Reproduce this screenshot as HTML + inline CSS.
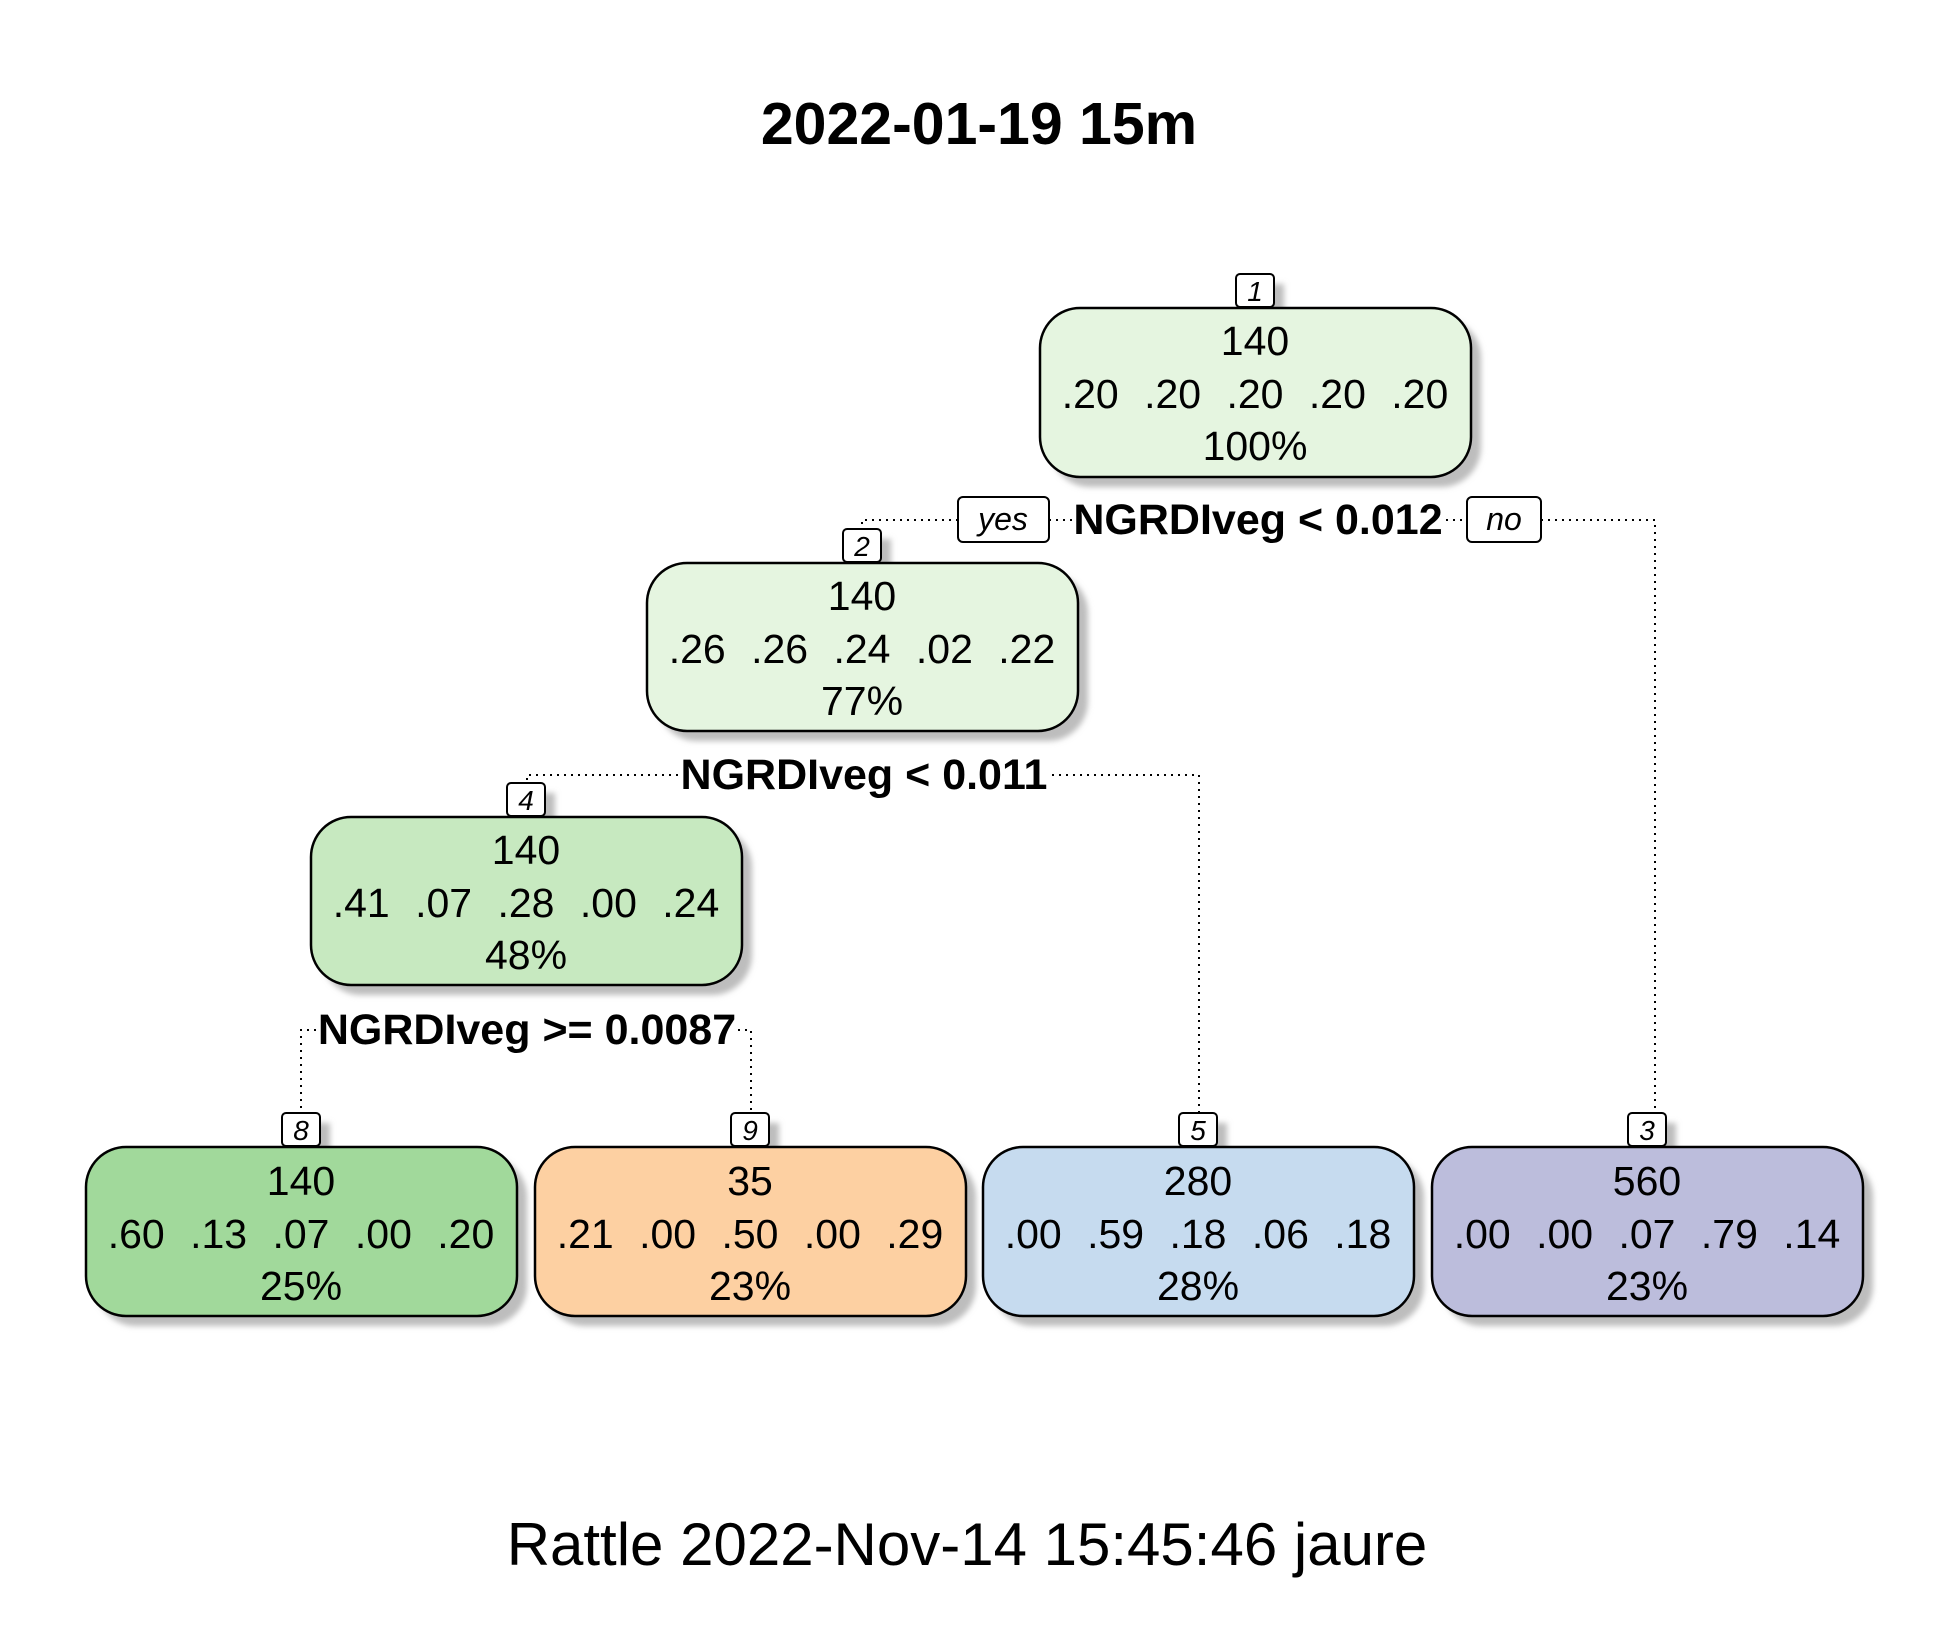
<!DOCTYPE html>
<html><head><meta charset="utf-8"><style>
html,body{margin:0;padding:0;background:#fff;}
svg{display:block;}
text{font-family:"Liberation Sans",Arial,sans-serif;}
</style></head><body>
<svg width="1950" height="1650" viewBox="0 0 1950 1650" xmlns="http://www.w3.org/2000/svg">
<defs>
<filter id="blur" x="-10%" y="-10%" width="130%" height="130%"><feGaussianBlur stdDeviation="3"/></filter>
</defs>
<text x="979" y="144" font-size="59" font-weight="bold" text-anchor="middle">2022-01-19 15m</text>

<g stroke="#000" stroke-width="2" stroke-dasharray="2,5" fill="none">
<polyline points="958,520 862,520 862,529"/>
<polyline points="1541,520 1655,520 1655,1112"/>
<line x1="1049" y1="520" x2="1074" y2="520"/>
<line x1="1446" y1="520" x2="1467" y2="520"/>
<polyline points="678,775 527,775 527,782"/>
<polyline points="1052,775 1199,775 1199,1112"/>
<polyline points="316,1030 301,1030 301,1112"/>
<polyline points="738,1030 751,1030 751,1112"/>
</g>

<g fill="#bdbdbd" filter="url(#blur)">
<rect x="1050" y="318" width="431" height="169" rx="40"/>
<rect x="657" y="573" width="431" height="168" rx="40"/>
<rect x="321" y="827" width="431" height="168" rx="40"/>
<rect x="96" y="1157" width="431" height="169" rx="40"/>
<rect x="545" y="1157" width="431" height="169" rx="40"/>
<rect x="993" y="1157" width="431" height="169" rx="40"/>
<rect x="1442" y="1157" width="431" height="169" rx="40"/>
<rect x="1246" y="284" width="38" height="33"/>
<rect x="853" y="539" width="38" height="33"/>
<rect x="517" y="793" width="38" height="33"/>
<rect x="292" y="1123" width="38" height="33"/>
<rect x="741" y="1123" width="38" height="33"/>
<rect x="1189" y="1123" width="38" height="33"/>
<rect x="1638" y="1123" width="38" height="33"/>
</g>
<g stroke="#000" stroke-width="2.5">
<rect x="1040" y="308" width="431" height="169" rx="40" fill="#e5f5e0"/>
<rect x="647" y="563" width="431" height="168" rx="40" fill="#e5f5e0"/>
<rect x="311" y="817" width="431" height="168" rx="40" fill="#c7e9c0"/>
<rect x="86" y="1147" width="431" height="169" rx="40" fill="#a1d99b"/>
<rect x="535" y="1147" width="431" height="169" rx="40" fill="#fdd0a2"/>
<rect x="983" y="1147" width="431" height="169" rx="40" fill="#c6dbef"/>
<rect x="1432" y="1147" width="431" height="169" rx="40" fill="#bcbddc"/>
</g>
<g stroke="#000" stroke-width="2" fill="#fff">
<rect x="1236" y="274" width="38" height="33" rx="4"/>
<rect x="843" y="529" width="38" height="33" rx="4"/>
<rect x="507" y="783" width="38" height="33" rx="4"/>
<rect x="282" y="1113" width="38" height="33" rx="4"/>
<rect x="731" y="1113" width="38" height="33" rx="4"/>
<rect x="1179" y="1113" width="38" height="33" rx="4"/>
<rect x="1628" y="1113" width="38" height="33" rx="4"/>
<rect x="958" y="497" width="91" height="45" rx="5"/>
<rect x="1467" y="497" width="74" height="45" rx="5"/>
</g>
<g font-size="28" font-style="italic" text-anchor="middle">
<text x="1255" y="301">1</text>
<text x="862" y="556">2</text>
<text x="526" y="810">4</text>
<text x="301" y="1140">8</text>
<text x="750" y="1140">9</text>
<text x="1198" y="1140">5</text>
<text x="1647" y="1140">3</text>
<text x="1003" y="530" font-size="32">yes</text>
<text x="1504" y="530" font-size="32">no</text>
</g>
<g font-size="43" font-weight="bold" text-anchor="middle">
<text x="1258" y="534">NGRDIveg &lt; 0.012</text>
<text x="864" y="789">NGRDIveg &lt; 0.011</text>
<text x="527" y="1044">NGRDIveg &gt;= 0.0087</text>
</g>
<g font-size="41" text-anchor="middle">
<text x="1255" y="355">140</text>
<text x="1255" y="408" word-spacing="14">.20 .20 .20 .20 .20</text>
<text x="1255" y="460">100%</text>
<text x="862" y="610">140</text>
<text x="862" y="663" word-spacing="14">.26 .26 .24 .02 .22</text>
<text x="862" y="715">77%</text>
<text x="526" y="864">140</text>
<text x="526" y="917" word-spacing="14">.41 .07 .28 .00 .24</text>
<text x="526" y="969">48%</text>
<text x="301" y="1195">140</text>
<text x="301" y="1248" word-spacing="14">.60 .13 .07 .00 .20</text>
<text x="301" y="1300">25%</text>
<text x="750" y="1195">35</text>
<text x="750" y="1248" word-spacing="14">.21 .00 .50 .00 .29</text>
<text x="750" y="1300">23%</text>
<text x="1198" y="1195">280</text>
<text x="1198" y="1248" word-spacing="14">.00 .59 .18 .06 .18</text>
<text x="1198" y="1300">28%</text>
<text x="1647" y="1195">560</text>
<text x="1647" y="1248" word-spacing="14">.00 .00 .07 .79 .14</text>
<text x="1647" y="1300">23%</text>
</g>
<text x="967" y="1565" font-size="60" text-anchor="middle">Rattle 2022-Nov-14 15:45:46 jaure</text>
</svg>
</body></html>
